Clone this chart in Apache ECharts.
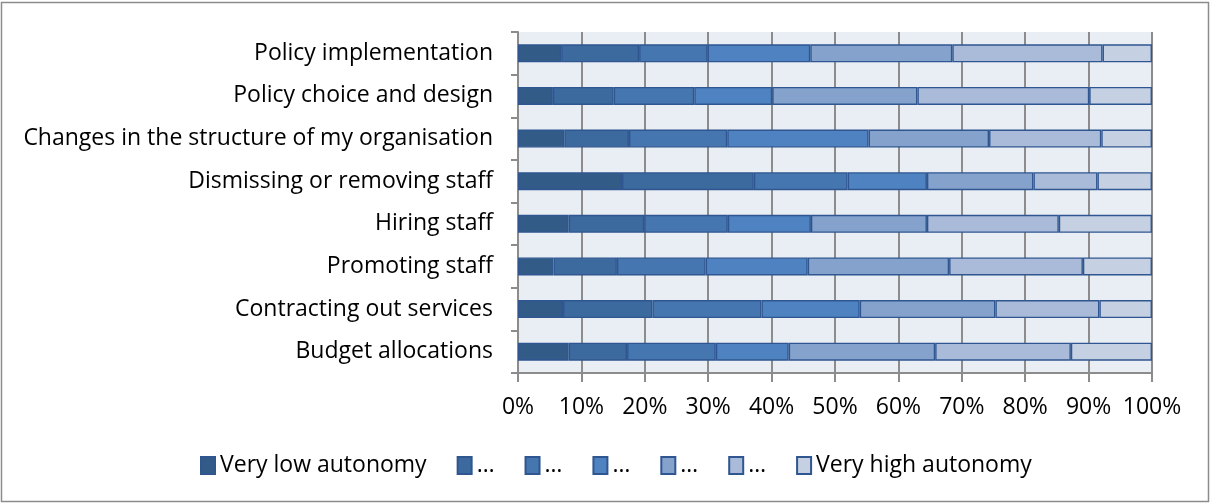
<!DOCTYPE html>
<html>
<head>
<meta charset="utf-8">
<script src="https://cdn.jsdelivr.net/npm/echarts@6/dist/echarts.min.js"></script>
<style>
  html, body { margin: 0; padding: 0; background: #fff; }
  #chart { width: 1212px; height: 504px; }
</style>
</head>
<body>
<div id="chart"></div>
<script>
// Organisation areas, listed bottom to top as the category axis draws them
const categories = [
  'Budget allocations',
  'Contracting out services',
  'Promoting staff',
  'Hiring staff',
  'Dismissing or removing staff',
  'Changes in the structure of my organisation',
  'Policy choice and design',
  'Policy implementation'
];

// Share of respondents (%) at each autonomy level, same order as categories
const level1 = [8.0, 7.1, 5.6, 8.0, 16.4, 7.3, 5.5, 6.8];
const level2 = [9.2, 14.1, 10.0, 11.9, 20.8, 10.2, 9.6, 12.3];
const level3 = [14.0, 17.2, 14.0, 13.2, 14.8, 15.5, 12.7, 10.8];
const level4 = [11.5, 15.5, 16.1, 13.1, 12.5, 22.3, 12.3, 16.2];
const level5 = [23.1, 21.4, 22.3, 18.3, 16.8, 19.0, 22.9, 22.4];
const level6 = [21.4, 16.4, 21.1, 20.8, 10.1, 17.7, 27.1, 23.7];
const level7 = [12.8, 8.3, 10.9, 14.7, 8.6, 8.0, 9.9, 7.8];

const seriesKeys = ['low', 'l2', 'l3', 'l4', 'l5', 'l6', 'high'];
const legendLabels = ['Very low autonomy', '\u2026', '\u2026', '\u2026', '\u2026', '\u2026', 'Very high autonomy'];
const levelData = [level1, level2, level3, level4, level5, level6, level7];
const colors = ['#335B88', '#3C6A9E', '#4676B0', '#4E82C0', '#85A2CD', '#AABBD9', '#C5D0E3'];

const xTicks = [0, 10, 20, 30, 40, 50, 60, 70, 80, 90, 100];

const font = '"Open Sans", "Noto Sans", sans-serif';
const fontSize = 23;

const chart = echarts.init(document.getElementById('chart'), null, { renderer: 'canvas' });

const series = levelData.map((vals, i) => ({
  name: seriesKeys[i],
  type: 'bar',
  stack: 'total',
  data: vals,
  barWidth: 18,
  itemStyle: {
    color: colors[i],
    borderColor: '#2F5690',
    borderWidth: 1.4
  },
  emphasis: { disabled: true }
}));

chart.setOption({
  animation: false,
  backgroundColor: '#fff',
  graphic: [{
    type: 'rect',
    shape: { x: 1.5, y: 2.5, width: 1207, height: 499 },
    style: { fill: null, stroke: '#8C8C8C', lineWidth: 1.5 },
    silent: true,
    z: -1
  }],
  grid: {
    left: 518, right: 60, top: 32, bottom: 131,
    show: true,
    backgroundColor: '#E9EDF4',
    borderWidth: 0
  },
  legend: {
    bottom: 22,
    left: 195,
    itemWidth: 14,
    itemHeight: 17,
    itemGap: 30,
    icon: 'rect',
    data: seriesKeys,
    formatter: name => legendLabels[seriesKeys.indexOf(name)],
    textStyle: { fontFamily: font, fontSize: fontSize, color: '#000' }
  },
  xAxis: {
    type: 'value',
    min: 0,
    max: 100,
    interval: 10,
    axisLine: { show: true, lineStyle: { color: '#8C8C8C', width: 2 } },
    axisTick: { show: true, length: 9, lineStyle: { color: '#8C8C8C', width: 2 } },
    splitLine: { show: true, lineStyle: { color: '#8C8C8C', width: 2 } },
    axisLabel: {
      fontFamily: font, fontSize: fontSize, color: '#000', margin: 23,
      formatter: v => xTicks.includes(v) ? v + '%' : ''
    }
  },
  yAxis: {
    type: 'category',
    data: categories,
    axisLine: { show: true, lineStyle: { color: '#8C8C8C', width: 2 } },
    axisTick: { show: true, length: 7, lineStyle: { color: '#8C8C8C', width: 2 } },
    axisLabel: { fontFamily: font, fontSize: fontSize, color: '#000', margin: 25 }
  },
  series: series
});
</script>
</body>
</html>
